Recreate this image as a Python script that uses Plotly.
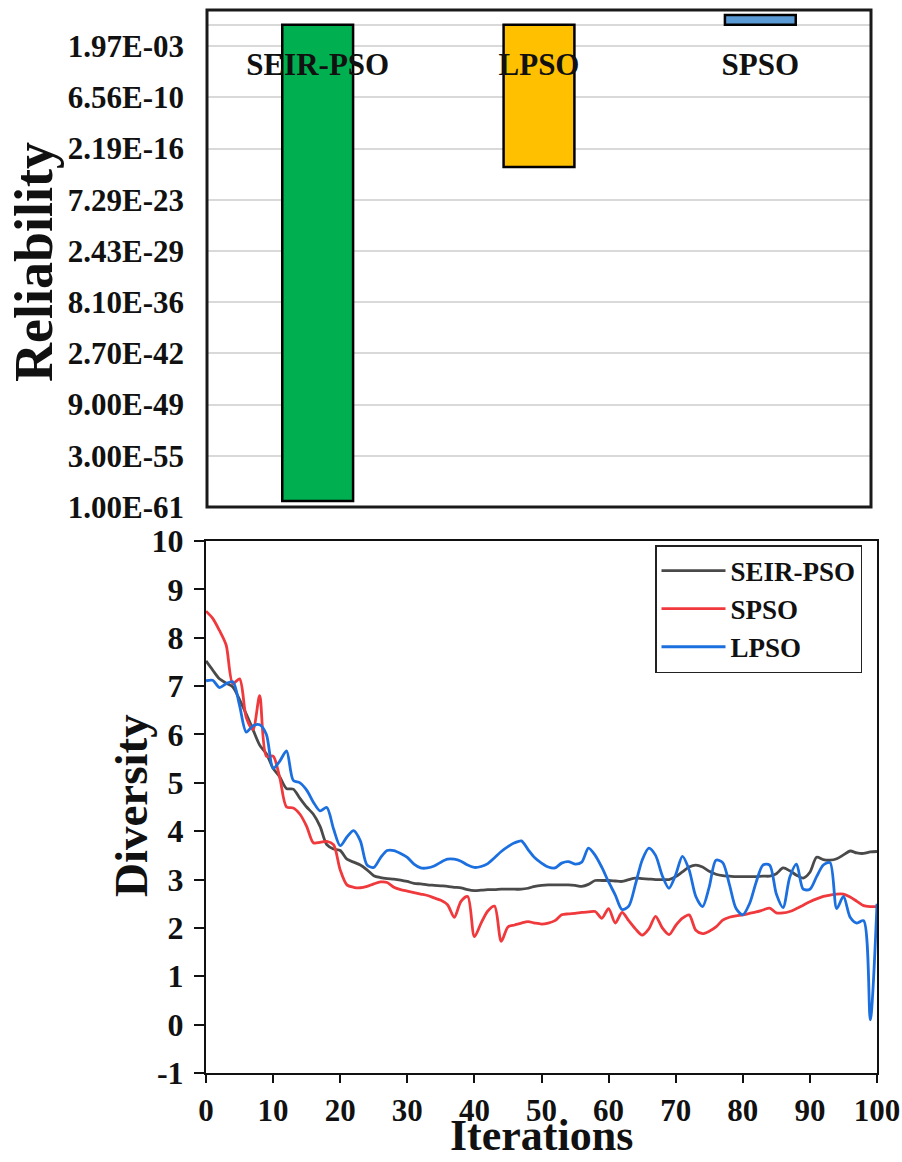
import plotly.graph_objects as go

# ---------------- data ----------------
rel_categories = ["SEIR-PSO", "LPSO", "SPSO"]
rel_values = [5.8e-61, 1.0e-18, 17.0]
rel_colors = ["#00b050", "#ffc000", "#5b9bd5"]
rel_tick_labels = ["1.00E-61", "3.00E-55", "9.00E-49", "2.70E-42", "8.10E-36",
                   "2.43E-29", "7.29E-23", "2.19E-16", "6.56E-10", "1.97E-03"]
rel_axis_cross = 1.0

iterations = list(range(0, 101))
seir_pso = [7.52, 7.33, 7.15, 7.06, 6.98, 6.72, 6.42, 6.10, 5.78, 5.60,
            5.30, 5.12, 4.88, 4.87, 4.68, 4.50, 4.35, 4.10, 3.72, 3.63,
            3.60, 3.42, 3.36, 3.30, 3.20, 3.08, 3.04, 3.02, 3.01, 2.99,
            2.96, 2.92, 2.91, 2.89, 2.88, 2.87, 2.86, 2.84, 2.83, 2.79,
            2.77, 2.78, 2.79, 2.79, 2.80, 2.80, 2.80, 2.80, 2.82, 2.86,
            2.88, 2.89, 2.89, 2.89, 2.89, 2.88, 2.86, 2.90, 2.98, 2.98,
            2.98, 2.97, 2.96, 3.00, 3.03, 3.02, 3.01, 3.00, 3.00, 3.00,
            3.06, 3.16, 3.26, 3.30, 3.26, 3.17, 3.11, 3.08, 3.07, 3.06,
            3.06, 3.06, 3.06, 3.07, 3.07, 3.12, 3.24, 3.18, 3.09, 3.03,
            3.15, 3.46, 3.41, 3.40, 3.43, 3.51, 3.59, 3.55, 3.54, 3.57,
            3.58]
spso = [8.55, 8.40, 8.15, 7.85, 7.05, 7.15, 6.35, 6.10, 6.80, 5.55,
        5.55, 5.10, 4.50, 4.48, 4.35, 4.10, 3.76, 3.77, 3.79, 3.72,
        3.20, 2.89, 2.84, 2.83, 2.86, 2.91, 2.95, 2.94, 2.84, 2.79,
        2.76, 2.73, 2.70, 2.67, 2.62, 2.57, 2.48, 2.22, 2.55, 2.65,
        1.82, 2.10, 2.35, 2.45, 1.72, 2.02, 2.06, 2.10, 2.13, 2.10,
        2.08, 2.10, 2.15, 2.27, 2.29, 2.30, 2.32, 2.33, 2.34, 2.20,
        2.40, 2.10, 2.32, 2.15, 1.98, 1.85, 1.98, 2.24, 2.00, 1.86,
        2.05, 2.20, 2.27, 1.95, 1.88, 1.93, 2.02, 2.16, 2.22, 2.25,
        2.27, 2.30, 2.33, 2.37, 2.41, 2.31, 2.31, 2.34, 2.40, 2.47,
        2.54, 2.60, 2.65, 2.68, 2.70, 2.70, 2.64, 2.55, 2.46, 2.44,
        2.44]
lpso = [7.11, 7.12, 6.97, 7.05, 7.09, 6.60, 6.05, 6.18, 6.20, 6.00,
        5.30, 5.45, 5.66, 5.05, 5.00, 4.85, 4.60, 4.42, 4.49, 4.05,
        3.70, 3.88, 4.01, 3.80, 3.30, 3.25, 3.45, 3.60, 3.60, 3.54,
        3.46, 3.32, 3.24, 3.24, 3.28, 3.36, 3.42, 3.42, 3.38, 3.30,
        3.25, 3.27, 3.33, 3.45, 3.58, 3.68, 3.76, 3.80, 3.62, 3.45,
        3.34, 3.26, 3.24, 3.34, 3.37, 3.32, 3.36, 3.65, 3.50, 3.25,
        2.95, 2.68, 2.38, 2.45, 2.90, 3.40, 3.65, 3.50, 3.08, 2.82,
        3.10, 3.48, 3.20, 2.65, 2.44, 2.85, 3.40, 3.35, 2.90, 2.40,
        2.27, 2.50, 2.95, 3.30, 3.30, 2.70, 2.42, 3.05, 3.32, 2.80,
        2.80, 3.06, 3.30, 3.35, 2.40, 2.65, 2.22, 2.10, 2.15, 0.10,
        2.50]
x_ticks = list(range(0, 101, 10))
y_ticks = list(range(-1, 11))

# ---------------- figure ----------------
W, H = 902, 1162
FONT = "Liberation Serif"
BLACK = "#111111"

def px_x(p):
    return p / W

def px_y(p):
    return 1 - p / H

fig = go.Figure()

# Reliability bars hang from the axis crossing at 1
bar_base = [v if v < rel_axis_cross else rel_axis_cross for v in rel_values]
bar_len = [abs(rel_axis_cross - v) for v in rel_values]
fig.add_trace(go.Bar(
    x=rel_categories, y=bar_len, base=bar_base,
    marker=dict(color=rel_colors, line=dict(color="#000000", width=2.5)),
    xaxis="x", yaxis="y", showlegend=False, width=0.32,
))

line_colors = {"SEIR-PSO": "#4a4a4a", "SPSO": "#f0393c", "LPSO": "#1c6fdf"}
for name, vals in [("SEIR-PSO", seir_pso), ("SPSO", spso), ("LPSO", lpso)]:
    fig.add_trace(go.Scatter(
        x=iterations, y=vals, name=name, mode="lines",
        line=dict(color=line_colors[name], width=2.8, shape="spline", smoothing=0.8),
        xaxis="x2", yaxis="y2",
    ))

top_x0, top_x1, top_y0, top_y1 = 207, 871, 10, 507
bot_x0, bot_x1, bot_y0, bot_y1 = 206, 877, 541, 1073

top_tickvals = [float(t) for t in rel_tick_labels] + [rel_axis_cross]
top_ticktext = rel_tick_labels + [""]

fig.update_layout(
    width=W, height=H,
    margin=dict(l=0, r=0, t=0, b=0),
    paper_bgcolor="white", plot_bgcolor="white",
    font=dict(family=FONT, weight="bold", color=BLACK, size=30),
    bargap=0.68,
    xaxis=dict(
        domain=[px_x(top_x0), px_x(top_x1)],
        anchor="free", position=px_y(25),
        type="category",
        showline=False,
        showgrid=False, zeroline=False, ticks="",
        tickfont=dict(size=31, family=FONT, weight="bold", color=BLACK),
        ticklabelstandoff=18,
        automargin=False,
    ),
    yaxis=dict(
        domain=[px_y(top_y1), px_y(top_y0)],
        anchor="x",
        type="log", range=[-61, 1.87],
        tickvals=top_tickvals,
        ticktext=top_ticktext,
        showgrid=True, gridcolor="#d9d9d9", gridwidth=2,
        showline=False, zeroline=False, ticks="",
        tickfont=dict(size=31, family=FONT, weight="bold", color=BLACK),
        ticklabelstandoff=22,
        automargin=False,
    ),
    xaxis2=dict(
        domain=[px_x(bot_x0), px_x(bot_x1)],
        anchor="y2",
        range=[0, 100], tickvals=x_ticks, ticktext=[str(v) for v in x_ticks],
        showline=True, linecolor=BLACK, linewidth=2, mirror=True,
        ticks="outside", ticklen=8, tickwidth=2, tickcolor=BLACK,
        showgrid=False, zeroline=False,
        tickfont=dict(size=31, family=FONT, weight="bold", color=BLACK),
        ticklabelstandoff=1,
        automargin=False,
    ),
    yaxis2=dict(
        domain=[px_y(bot_y1), px_y(bot_y0)],
        anchor="x2",
        range=[-1, 10], tickvals=y_ticks, ticktext=[str(v) for v in y_ticks],
        showline=True, linecolor=BLACK, linewidth=2, mirror=True,
        ticks="outside", ticklen=10, tickwidth=2, tickcolor=BLACK,
        showgrid=False, zeroline=False,
        tickfont=dict(size=32, family=FONT, weight="bold", color=BLACK),
        ticklabelstandoff=4,
        automargin=False,
    ),
    legend=dict(
        x=px_x(655), y=px_y(545), xanchor="left", yanchor="top",
        bgcolor="white", bordercolor="#222222", borderwidth=1.5,
        font=dict(size=27, family=FONT, weight="bold", color=BLACK),
        itemwidth=64,
    ),
    shapes=[dict(
        type="rect", xref="x domain", yref="y domain",
        x0=0, x1=1, y0=0, y1=1,
        line=dict(color="#1a1a1a", width=3), layer="above",
    )],
    annotations=[
        dict(text="Reliability", textangle=-90, showarrow=False,
             xref="paper", yref="paper", x=px_x(34), y=px_y(262),
             xanchor="center", yanchor="middle",
             font=dict(size=54, family=FONT, weight="bold", color=BLACK)),
        dict(text="Diversity", textangle=-90, showarrow=False,
             xref="paper", yref="paper", x=px_x(131), y=px_y(806),
             xanchor="center", yanchor="middle",
             font=dict(size=47, family=FONT, weight="bold", color=BLACK)),
        dict(text="Iterations", showarrow=False,
             xref="paper", yref="paper", x=px_x(541), y=0,
             xanchor="center", yanchor="bottom",
             font=dict(size=44, family=FONT, weight="bold", color=BLACK)),
    ],
)

fig.write_html(
    "out.html",
    config={"displayModeBar": False},
    post_script="document.body.style.margin='0px';document.body.style.padding='0px';",
)
